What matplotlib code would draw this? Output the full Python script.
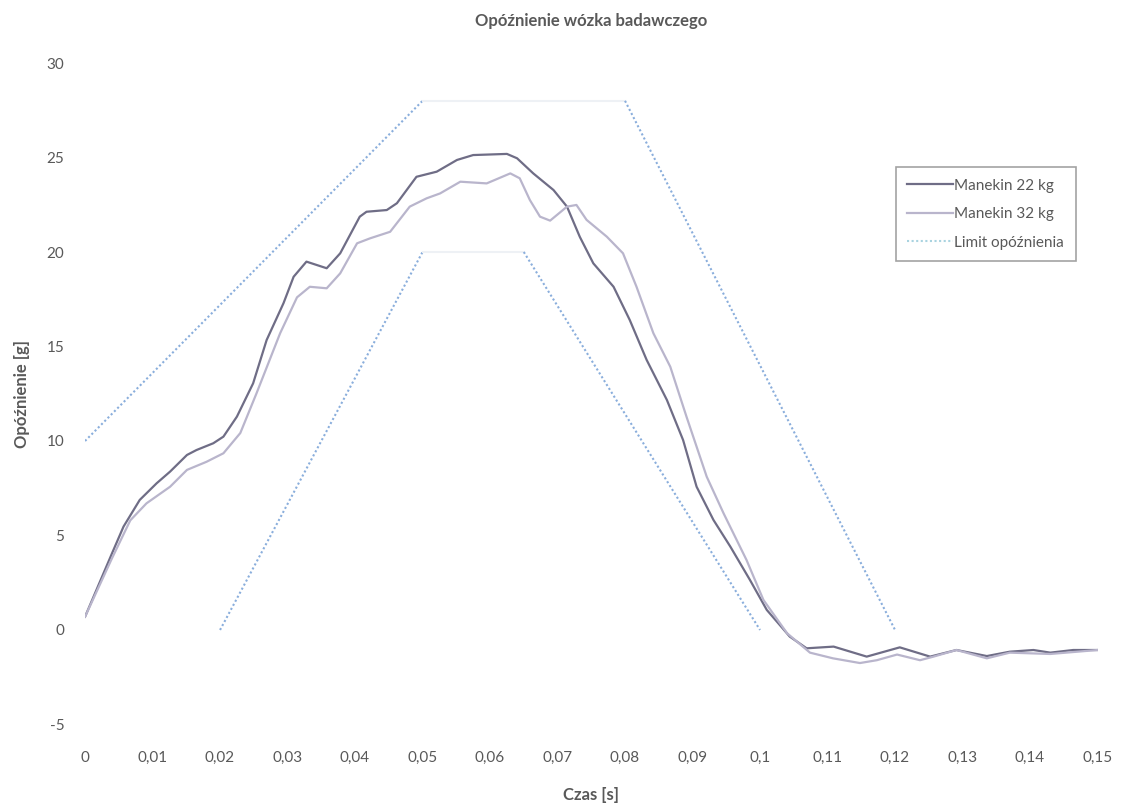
import matplotlib.pyplot as plt
from matplotlib.ticker import FuncFormatter

# odczyt z wykresu
czas_22 = [0.0, 0.004, 0.0057, 0.0081, 0.0106, 0.0126, 0.0151, 0.0165, 0.019, 0.0205,
           0.0225, 0.0249, 0.0269, 0.0294, 0.0309, 0.0328, 0.0358, 0.0378, 0.0407, 0.0417,
           0.0447, 0.0462, 0.0491, 0.0521, 0.0551, 0.0575, 0.0625, 0.064, 0.0664, 0.0694,
           0.0714, 0.0733, 0.0753, 0.0783, 0.0807, 0.0832, 0.0862, 0.0886, 0.0906, 0.0931,
           0.0956, 0.0985, 0.101, 0.1044, 0.1069, 0.1109, 0.1158, 0.1207, 0.1252, 0.1291,
           0.1336, 0.137, 0.1405, 0.143, 0.1464, 0.15]
opoz_22 = [0.7, 4.06, 5.47, 6.88, 7.76, 8.38, 9.26, 9.52, 9.88, 10.23,
           11.29, 13.05, 15.34, 17.29, 18.69, 19.49, 19.14, 19.93, 21.87, 22.13,
           22.22, 22.58, 23.98, 24.25, 24.87, 25.13, 25.19, 24.96, 24.16, 23.28,
           22.4, 20.8, 19.4, 18.16, 16.4, 14.29, 12.17, 10.05, 7.58, 5.82,
           4.41, 2.65, 1.06, -0.35, -0.97, -0.88, -1.41, -0.92, -1.41, -1.06,
           -1.38, -1.15, -1.06, -1.2, -1.06, -1.06]

czas_32 = [0.0, 0.004, 0.0067, 0.0091, 0.0126, 0.0151, 0.018, 0.0205, 0.023, 0.0254,
           0.0289, 0.0314, 0.0333, 0.0358, 0.0378, 0.0403, 0.0422, 0.0452, 0.0481, 0.0506,
           0.0526, 0.0556, 0.0595, 0.063, 0.0644, 0.0659, 0.0674, 0.0689, 0.0714, 0.0728,
           0.0743, 0.0773, 0.0797, 0.0817, 0.0842, 0.0867, 0.0891, 0.0921, 0.0946, 0.098,
           0.1005, 0.104, 0.1074, 0.1108, 0.1148, 0.1173, 0.1203, 0.1237, 0.1257, 0.1291,
           0.1336, 0.137, 0.143, 0.15]
opoz_32 = [0.7, 3.8, 5.8, 6.7, 7.58, 8.47, 8.9, 9.35, 10.42, 12.52,
           15.7, 17.6, 18.16, 18.08, 18.87, 20.46, 20.72, 21.07, 22.4, 22.84,
           23.1, 23.72, 23.63, 24.16, 23.9, 22.75, 21.87, 21.66, 22.4, 22.49,
           21.7, 20.81, 19.93, 18.16, 15.7, 13.93, 11.29, 8.11, 6.17, 3.7,
           1.59, -0.17, -1.2, -1.5, -1.75, -1.6, -1.3, -1.6, -1.41, -1.06,
           -1.5, -1.2, -1.27, -1.06]

# korytarz (limit opóźnienia)
gorny_czas = [0.0, 0.05, 0.08, 0.12]
gorny_opoz = [10, 28, 28, 0]
dolny_czas = [0.02, 0.05, 0.065, 0.1]
dolny_opoz = [0, 20, 20, 0]

szary = '#595959'
plt.rcParams['font.family'] = ['Lato', 'DejaVu Sans']
plt.rcParams['axes.unicode_minus'] = False

fig = plt.figure(figsize=(11.22, 8.11), dpi=100)
ax = fig.add_axes([0.0758, 0.1067, 0.9024, 0.8156])

ax.plot(czas_22, opoz_22, color='#6f6d86', lw=1.6, label='Manekin 22 kg')
ax.plot(czas_32, opoz_32, color='#b9b5cc', lw=1.6, label='Manekin 32 kg')

# skosy kropkowane, poziome odcinki prawie niewidoczne
for cz, op in [(gorny_czas, gorny_opoz), (dolny_czas, dolny_opoz)]:
    ax.plot(cz[:2], op[:2], color='#8aaedc', lw=1.5, ls=(0, (1, 1.2)))
    ax.plot(cz[1:3], op[1:3], color='#eef1f5', lw=1.5)
    ax.plot(cz[2:], op[2:], color='#8aaedc', lw=1.5, ls=(0, (1, 1.2)))
ax.plot([], [], color='#a9d3e0', lw=1.5, ls=(0, (1, 1.2)), label='Limit opóźnienia')

ax.set_xlim(0, 0.15)
ax.set_ylim(-5, 30)
ax.set_xticks([i / 100 for i in range(16)])
ax.set_yticks(range(-5, 31, 5))
ax.xaxis.set_major_formatter(FuncFormatter(lambda v, p: f'{v:g}'.replace('.', ',')))

for s in ax.spines.values():
    s.set_visible(False)
ax.tick_params(axis='both', length=0, labelsize=11, labelcolor=szary)
ax.tick_params(axis='x', pad=19)
ax.tick_params(axis='y', pad=15)

ax.set_title('Opóźnienie wózka badawczego', fontsize=12, fontweight='bold',
             color=szary, pad=27)
ax.set_xlabel('Czas [s]', fontsize=12, fontweight='bold', color=szary, labelpad=16)
ax.set_ylabel('Opóźnienie [g]', fontsize=12, fontweight='bold', color=szary, labelpad=12)

leg = ax.legend(loc='upper left', bbox_to_anchor=(0.793, 0.854), fontsize=11,
                frameon=True, fancybox=False, edgecolor='#8c8c8c',
                handlelength=3.0, handletextpad=0.1, labelspacing=0.95,
                borderpad=0.75)
leg.get_frame().set_linewidth(1.2)
for t in leg.get_texts():
    t.set_color(szary)

fig.savefig('out.png', dpi=100)
